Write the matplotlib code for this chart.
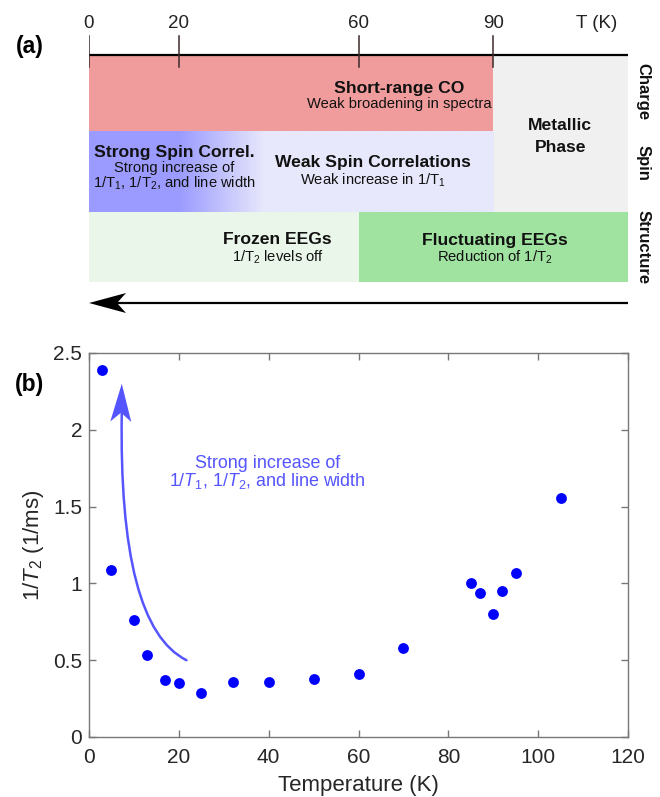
import numpy as np
import matplotlib.pyplot as plt
import matplotlib.transforms as mtransforms
from matplotlib.colors import LinearSegmentedColormap
from matplotlib.patches import Rectangle, Polygon, FancyArrowPatch
from matplotlib.path import Path

plt.rcParams['font.family'] = ['Liberation Sans', 'DejaVu Sans']
plt.rcParams['mathtext.fontset'] = 'custom'
plt.rcParams['mathtext.rm'] = 'Liberation Sans'
plt.rcParams['mathtext.it'] = 'Liberation Sans:italic'
plt.rcParams['mathtext.bf'] = 'Liberation Sans:bold'

# ---- data: 1/T2 vs temperature (panel b)
temperature = [3, 5, 10, 13, 17, 20, 25, 32, 40, 50, 60, 70, 85, 87, 90, 92, 95, 105]
inv_t2 = [2.39, 1.09, 0.76, 0.535, 0.37, 0.35, 0.285, 0.357, 0.357, 0.375, 0.413, 0.577,
          1.003, 0.94, 0.80, 0.952, 1.067, 1.557]
x_ticks = [0, 20, 40, 60, 80, 100, 120]
y_ticks = [0, 0.5, 1, 1.5, 2, 2.5]
y_tick_labels = ['0', '0.5', '1', '1.5', '2', '2.5']

# ---- phase diagram boundaries (panel a), in K
top_ticks = [0, 20, 60, 90]
t_max = 120
t_co = 90          # end of short-range charge order
t_struct = 60      # frozen / fluctuating EEGs
t_spin_strong = 20  # strong spin correlations up to here
t_spin_fade = 39    # gradient into weak correlations

W, H = 660, 797
fig = plt.figure(figsize=(W / 100, H / 100), dpi=100)

x0, x1 = 89, 628  # pixel extent of the 0..120 K axis


def stealth_head(ax, tip, angle, length, half_w, indent, color):
    # arrow head with concave back; sizes in pixels
    a = np.deg2rad(angle)
    d = np.array([np.cos(a), np.sin(a)])
    n = np.array([-d[1], d[0]])
    pts = np.array([[0, 0],
                    -length * d + half_w * n,
                    -(length - indent) * d,
                    -length * d - half_w * n]) / fig.dpi
    tr = fig.dpi_scale_trans + mtransforms.ScaledTranslation(tip[0], tip[1], ax.transData)
    ax.add_patch(Polygon(pts, closed=True, transform=tr, color=color, lw=0, zorder=5,
                         clip_on=False))


# ================= panel (a) =================
ax_a = fig.add_axes([x0 / W, 1 - 320 / H, (x1 - x0) / W, 320 / H])
ax_a.set_xlim(0, t_max)
ax_a.set_ylim(320, 0)
ax_a.axis('off')

red = '#f09c9c'
grey = '#f0f0f0'
lav = '#e8e8fc'
blue = '#9b9bff'
lgreen = '#e9f6e9'
green = '#a0e2a0'

ax_a.add_patch(Rectangle((0, 56), t_co, 75, fc=red, ec='none'))
ax_a.add_patch(Rectangle((t_co, 56), t_max - t_co, 156, fc=grey, ec='none'))
ax_a.add_patch(Rectangle((0, 212), t_struct, 70, fc=lgreen, ec='none'))
ax_a.add_patch(Rectangle((t_struct, 212), t_max - t_struct, 70, fc=green, ec='none'))

# spin row: gradient from strong (blue) to weak (lavender)
xs = np.linspace(0, t_co, 400)
frac = np.clip((xs - t_spin_strong) / (t_spin_fade - t_spin_strong), 0, 1)
cmap = LinearSegmentedColormap.from_list('spin', [blue, lav])
ax_a.imshow(frac[None, :], cmap=cmap, vmin=0, vmax=1, aspect='auto',
            extent=(0, t_co, 212, 131), interpolation='bilinear', zorder=1)
ax_a.set_xlim(0, t_max)
ax_a.set_ylim(320, 0)

# temperature axis line
ax_a.plot([0, t_max], [55, 55], color='black', lw=1.6, solid_capstyle='butt', zorder=4)
for t in top_ticks:
    ax_a.plot([t, t], [36, 67], color='#3a2a2a', lw=1.1, zorder=4)
    ax_a.text(t, 23, str(t), ha='center', va='center', fontsize=13.5, color='#222222')
ax_a.text(113, 23, 'T (K)', ha='center', va='center', fontsize=13.5, color='#222222')

bold = dict(ha='center', va='center', fontsize=12.6, fontweight='bold', color='#111111')
norm = dict(ha='center', va='center', fontsize=10.6, color='#111111')

ax_a.text(69, 89, 'Short-range CO', **bold)
ax_a.text(69, 104, 'Weak broadening in spectra', **norm)
ax_a.text(104.9, 125, 'Metallic', **bold)
ax_a.text(104.9, 148, 'Phase', **bold)
ax_a.text(19, 152, 'Strong Spin Correl.', **bold)
ax_a.text(19, 168, 'Strong increase of', **norm)
ax_a.text(19, 183, r'1/T$_1$, 1/T$_2$, and line width', **norm)
ax_a.text(63.3, 163, 'Weak Spin Correlations', **bold)
ax_a.text(63.3, 180, r'Weak increase in 1/T$_1$', **norm)
ax_a.text(42, 240, 'Frozen EEGs', **bold)
ax_a.text(42, 257, r'1/T$_2$ levels off', **norm)
ax_a.text(90.3, 240, 'Fluctuating EEGs', **bold)
ax_a.text(90.3, 257, r'Reduction of 1/T$_2$', **norm)

side = dict(ha='center', va='center', fontsize=12, fontweight='bold', rotation=270,
            color='#111111')
ax_a.text(123.4, 92, 'Charge', **side)
ax_a.text(123.4, 163, 'Spin', **side)
ax_a.text(123.4, 247, 'Structure', **side)

# cooling arrow
ax_a.plot([t_max, 6], [303, 303], color='black', lw=1.6, solid_capstyle='butt')
stealth_head(ax_a, (0, 303), 180, 37, 10, 9, 'black')

fig.text(30 / W, 1 - 46 / H, '(a)', ha='center', va='center', fontsize=16.5,
         fontweight='bold')

# ================= panel (b) =================
ax_b = fig.add_axes([x0 / W, 1 - 737 / H, (x1 - x0) / W, (737 - 353) / H])
ax_b.plot(temperature, inv_t2, 'o', color='#0000ff', markersize=7.8, mec='none', zorder=3)
ax_b.set_xlim(0, 120)
ax_b.set_ylim(0, 2.5)
ax_b.set_xticks(x_ticks)
ax_b.set_yticks(y_ticks)
ax_b.set_yticklabels(y_tick_labels)
ax_b.tick_params(direction='in', top=True, right=True, length=5, width=1,
                 color='#777777', labelsize=15, labelcolor='#262626')
ax_b.tick_params(axis='x', pad=8)
ax_b.tick_params(axis='y', pad=5)
for s in ax_b.spines.values():
    s.set_color('#777777')
    s.set_linewidth(1)
ax_b.set_xlabel('Temperature (K)', fontsize=16, color='#262626', labelpad=6)
ax_b.set_ylabel(r'1/$T_2$ (1/ms)', fontsize=16, color='#262626', labelpad=5)

arrow_col = '#5555ff'
curve = Path([(21.7, 0.5), (6.5, 0.72), (7.3, 2.12)],
             [Path.MOVETO, Path.CURVE3, Path.CURVE3])
ax_b.add_patch(FancyArrowPatch(path=curve, arrowstyle='-', color=arrow_col, lw=1.8,
                               zorder=4))
stealth_head(ax_b, (7.3, 2.30), 88.5, 38, 10.5, 9, arrow_col)

ax_b.text(39.8, 1.78, 'Strong increase of', ha='center', va='center', fontsize=12.9,
          color=arrow_col)
ax_b.text(39.8, 1.665, r'1/$T_1$, 1/$T_2$, and line width', ha='center', va='center',
          fontsize=12.9, color=arrow_col)

fig.text(30 / W, 1 - 384 / H, '(b)', ha='center', va='center', fontsize=16.5,
         fontweight='bold')

fig.savefig('out.png', dpi=100)
